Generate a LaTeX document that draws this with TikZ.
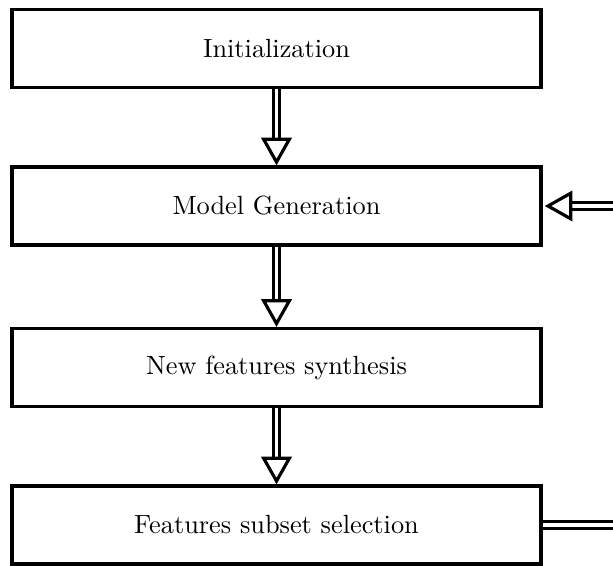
\documentclass[tikz,border=0pt]{standalone}
\usetikzlibrary{arrows.meta}
\begin{document}
\begin{tikzpicture}[x=0.38pt,y=-0.38pt,
  stagebox/.style={draw,line width=1.25pt,minimum width=529*0.38pt,minimum height=78*0.38pt,inner sep=0pt,font=\normalsize},
  flow/.style={line width=1.2pt,double,double distance=1.2pt,
    -{Triangle[open,length=10.5pt,width=11.5pt,line width=1.2pt]}},
  feed/.style={line width=1.2pt,double,double distance=1.2pt}]
  \useasboundingbox (0,0) rectangle (613,565);
  \node[stagebox] (init) at (276.5,48.5) {Initialization};
  \node[stagebox] (model) at (276.5,206) {Model Generation};
  \node[stagebox] (synth) at (276.5,367.5) {New features synthesis};
  \node[stagebox] (subset) at (276.5,525) {Features subset selection};
  \coordinate (inR) at (620,206);
  \coordinate (outR) at (620,525);
  \draw[flow] (init) -- (model);
  \draw[flow] (model) -- (synth);
  \draw[flow] (synth) -- (subset);
  \draw[flow,shorten >=0.8pt] (inR) -- (model);
  \draw[feed] (subset) -- (outR);
\end{tikzpicture}
\end{document}
